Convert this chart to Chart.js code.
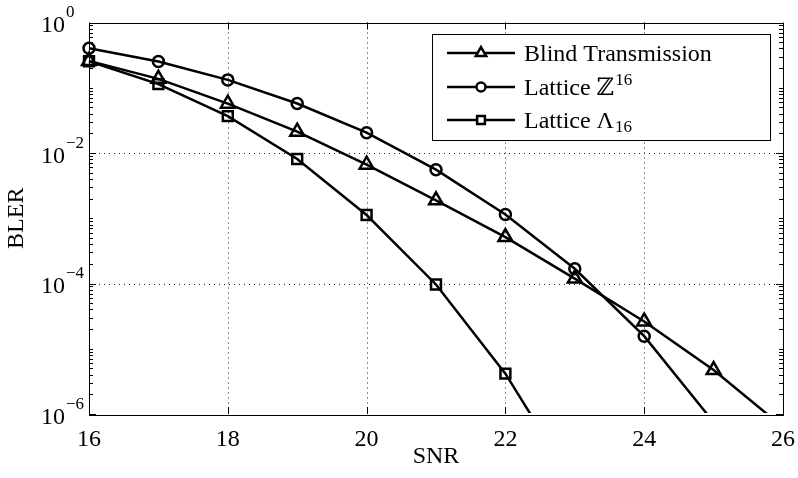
<!DOCTYPE html>
<html>
<head>
<meta charset="utf-8">
<script src="https://cdn.jsdelivr.net/npm/chart.js@4/dist/chart.umd.min.js"></script>
<style>
  html, body { margin: 0; padding: 0; background: #fff; }
  #wrap { width: 798px; height: 478px; }
</style>
</head>
<body>
<div id="wrap"><canvas id="bler" width="798" height="478"></canvas></div>
<script>
"use strict";
// SNR (dB)
const snr = [16, 17, 18, 19, 20, 21, 22, 23, 24, 25, 26];

// BLER
const blindTx = [0.258, 0.137, 0.057, 0.0212, 0.00662, 0.00188, 5.14e-4, 1.19e-4, 2.62e-5, 4.71e-6, 6.3e-7];
const latticeZ16 = [0.404, 0.252, 0.132, 0.0574, 0.0205, 0.00555, 0.00114, 1.68e-4, 1.56e-5, 7.5e-7];
const latticeL16 = [0.255, 0.1137, 0.0368, 0.0081, 0.00112, 9.66e-5, 4.15e-6, 8e-8];

const xTicks = [16, 18, 20, 22, 24, 26];
const yExponents = [0, -2, -4, -6];

const legendItems = [
    { base: "Blind Transmission", extra: "", kind: "", marker: "triangle" },
    { base: "Lattice \u2124", extra: "16", kind: "sup", marker: "circle" },
    { base: "Lattice \u039B", extra: "16", kind: "sub", marker: "rect" },
];

const SERIF = "'Liberation Serif', 'DejaVu Serif', serif";

function pts(values) {
    return values.map((v, i) => ({ x: snr[i], y: v }));
}

const frame = {
    id: "matlabFrame",
    beforeDatasetsDraw(chart) {
        const { ctx, chartArea: a } = chart;
        const xs = chart.scales.x;
        const ys = chart.scales.y;
        ctx.save();
        ctx.strokeStyle = "#222";
        ctx.lineWidth = 1;
        ctx.setLineDash([1, 4]);
        xTicks.slice(1, -1).forEach((t) => {
            const px = Math.round(xs.getPixelForValue(t)) + 0.5;
            ctx.beginPath();
            ctx.moveTo(px, a.top);
            ctx.lineTo(px, a.bottom);
            ctx.stroke();
        });
        yExponents.slice(1, -1).forEach((e) => {
            const py = Math.round(ys.getPixelForValue(Math.pow(10, e))) + 0.5;
            ctx.beginPath();
            ctx.moveTo(a.left, py);
            ctx.lineTo(a.right, py);
            ctx.stroke();
        });
        ctx.restore();
    },
    afterDatasetsDraw(chart) {
        const { ctx, chartArea: a } = chart;
        const xs = chart.scales.x;
        const ys = chart.scales.y;
        ctx.save();
        ctx.strokeStyle = "#000";
        ctx.lineWidth = 1;

        // ticks, pointing inwards on all four sides
        ctx.beginPath();
        xTicks.forEach((t) => {
            const px = Math.round(xs.getPixelForValue(t)) + 0.5;
            ctx.moveTo(px, a.bottom);
            ctx.lineTo(px, a.bottom - 7);
            ctx.moveTo(px, a.top);
            ctx.lineTo(px, a.top + 7);
        });
        for (let e = -6; e < 0; e++) {
            for (let m = 1; m < 10; m++) {
                const v = m * Math.pow(10, e);
                const py = Math.round(ys.getPixelForValue(v)) + 0.5;
                const len = m === 1 && e % 2 === 0 ? 7 : 4;
                ctx.moveTo(a.left, py);
                ctx.lineTo(a.left + len, py);
                ctx.moveTo(a.right, py);
                ctx.lineTo(a.right - len, py);
            }
        }
        ctx.stroke();
        ctx.strokeRect(Math.round(a.left) + 0.5, Math.round(a.top) + 0.5,
            Math.round(a.right - a.left), Math.round(a.bottom - a.top));

        // y tick labels 10^e
        ctx.fillStyle = "#000";
        yExponents.forEach((e) => {
            const py = ys.getPixelForValue(Math.pow(10, e));
            ctx.font = "normal 24px " + SERIF;
            ctx.textAlign = "right";
            ctx.textBaseline = "alphabetic";
            ctx.fillText("10", 65, py + 9.5);
            ctx.font = "normal 17px " + SERIF;
            ctx.textAlign = "left";
            ctx.fillText(e === 0 ? "0" : "\u2212" + Math.abs(e), 66, py - 5.5);
        });

        // legend
        const box = { left: 432.5, top: 34.5, right: 770.5, bottom: 140.5 };
        ctx.fillStyle = "#fff";
        ctx.fillRect(box.left, box.top, box.right - box.left, box.bottom - box.top);
        ctx.strokeRect(box.left, box.top, box.right - box.left, box.bottom - box.top);
        const rows = [53, 87, 120];
        legendItems.forEach((item, i) => {
            const y = rows[i];
            ctx.lineWidth = 2.5;
            ctx.beginPath();
            ctx.moveTo(447, y);
            ctx.lineTo(515, y);
            ctx.stroke();
            ctx.fillStyle = "#fff";
            Chart.helpers.drawPoint(ctx, {
                pointStyle: item.marker,
                radius: item.marker === "triangle" ? 6 : item.marker === "rect" ? 5.5 : 4.5,
                borderWidth: 2.5,
            }, 481, y);
            ctx.fillStyle = "#000";
            ctx.font = "normal 24px " + SERIF;
            ctx.textAlign = "left";
            ctx.textBaseline = "alphabetic";
            ctx.fillText(item.base, 524, y + 8);
            if (item.extra) {
                const w = ctx.measureText(item.base).width;
                ctx.font = "normal 17px " + SERIF;
                ctx.fillText(item.extra, 524 + w + 1, item.kind === "sup" ? y - 2 : y + 12);
            }
        });
        ctx.restore();
    },
};

const baseSet = {
    borderColor: "#000",
    borderWidth: 2.5,
    pointBorderColor: "#000",
    pointBackgroundColor: "rgba(0,0,0,0)",
    pointBorderWidth: 2.5,
    pointHoverRadius: 6,
    tension: 0,
    clip: { left: 12, top: 12, right: 12, bottom: -1 },
};

new Chart(document.querySelector("#bler"), {
    type: "line",
    data: {
        datasets: [
            { ...baseSet, label: "Blind Transmission", data: pts(blindTx), pointStyle: "triangle", pointRadius: 8 },
            { ...baseSet, label: "Lattice \u2124\u00B9\u2076", data: pts(latticeZ16), pointStyle: "circle", pointRadius: 5.5 },
            { ...baseSet, label: "Lattice \u039B\u2081\u2086", data: pts(latticeL16), pointStyle: "rect", pointRadius: 7 },
        ],
    },
    options: {
        responsive: false,
        animation: false,
        devicePixelRatio: 1,
        layout: { padding: { left: 0, right: 15, top: 22.5, bottom: 0 } },
        plugins: {
            legend: { display: false },
            tooltip: { enabled: false },
        },
        scales: {
            x: {
                type: "linear",
                min: 16,
                max: 26,
                afterFit: (axis) => { axis.height = 64; },
                afterBuildTicks: (axis) => { axis.ticks = xTicks.map((v) => ({ value: v })); },
                grid: { display: false },
                border: { display: false },
                ticks: {
                    color: "#000",
                    padding: 3,
                    maxRotation: 0,
                    font: { family: SERIF, size: 24, weight: "normal" },
                },
                title: {
                    display: true,
                    text: "SNR",
                    color: "#000",
                    font: { family: SERIF, size: 24, weight: "normal" },
                    padding: { top: 0, bottom: 6.6 },
                },
            },
            y: {
                type: "logarithmic",
                min: 1e-6,
                max: 1,
                afterFit: (axis) => { axis.width = 89; },
                grid: { display: false },
                border: { display: false },
                ticks: { display: false },
                title: {
                    display: true,
                    text: "BLER",
                    color: "#000",
                    font: { family: SERIF, size: 24, weight: "normal" },
                    padding: { top: 2.5, bottom: 0 },
                },
            },
        },
    },
    plugins: [frame],
});
</script>
</body>
</html>
